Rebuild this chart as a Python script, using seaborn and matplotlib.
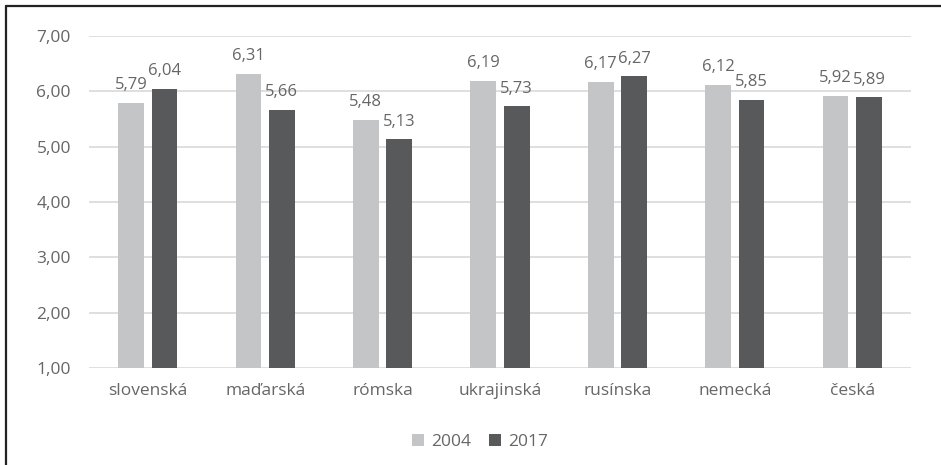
import matplotlib
matplotlib.use("Agg")
import matplotlib.pyplot as plt
import seaborn as sns
import pandas as pd
from matplotlib.lines import Line2D
from matplotlib.ticker import FuncFormatter

categories = ["slovenská", "maďarská", "rómska", "ukrajinská", "rusínska", "nemecká", "česká"]
years = ["2004", "2017"]
values_2004 = [5.79, 6.31, 5.48, 6.19, 6.17, 6.12, 5.92]
values_2017 = [6.04, 5.66, 5.13, 5.73, 6.27, 5.85, 5.89]
y_ticks = [1, 2, 3, 4, 5, 6, 7]

df = pd.DataFrame({
    "kategoria": categories * 2,
    "rok": [years[0]] * len(categories) + [years[1]] * len(categories),
    "hodnota": values_2004 + values_2017,
})

sns.set_theme(style="white")
plt.rcParams["font.family"] = ["Open Sans", "DejaVu Sans"]
text_color = "#666666"
fs = 12.5

fig = plt.figure(figsize=(9.41, 4.65), dpi=100)
ax = fig.add_axes([89 / 941, 1 - 368 / 465, (911 - 89) / 941, (368 - 36) / 465])

sns.barplot(data=df, x="kategoria", y="hodnota", hue="rok", order=categories,
            hue_order=years, palette=["#C4C5C6", "#58595B"], width=0.57, gap=0.23,
            saturation=1, errorbar=None, ax=ax, zorder=3, linewidth=0)

ax.set_ylim(1, 7)
ax.set_yticks(y_ticks)
ax.yaxis.set_major_formatter(FuncFormatter(lambda v, p: f"{v:.2f}".replace(".", ",")))
ax.grid(axis="y", color="#D9D9D9", linewidth=1.2, zorder=0)
ax.grid(axis="x", visible=False)
for s in ax.spines.values():
    s.set_visible(False)
ax.tick_params(axis="both", length=0, labelsize=fs, colors=text_color)
ax.tick_params(axis="y", pad=13)
ax.tick_params(axis="x", pad=11)
ax.set_xlabel("")
ax.set_ylabel("")

for cont in ax.containers:
    labels = [f"{b.get_height():.2f}".replace(".", ",") for b in cont]
    ax.bar_label(cont, labels=labels, padding=7, fontsize=12, color=text_color)

handles, lbls = ax.get_legend_handles_labels()
ax.legend(handles, lbls, loc="center", bbox_to_anchor=(480 / 941, 1 - 442 / 465),
          bbox_transform=fig.transFigure, ncol=2, frameon=False, fontsize=fs,
          handlelength=0.7, handleheight=0.7, handletextpad=0.4, columnspacing=1.0,
          labelcolor=text_color)

fig.add_artist(Line2D([6 / 941, 1.0], [1 - 6 / 465, 1 - 6 / 465], color="#222222",
                      linewidth=1.6, transform=fig.transFigure))
fig.add_artist(Line2D([6 / 941, 6 / 941], [0.0, 1 - 6 / 465], color="#222222",
                      linewidth=1.6, transform=fig.transFigure))

fig.savefig("out.png", dpi=100)
